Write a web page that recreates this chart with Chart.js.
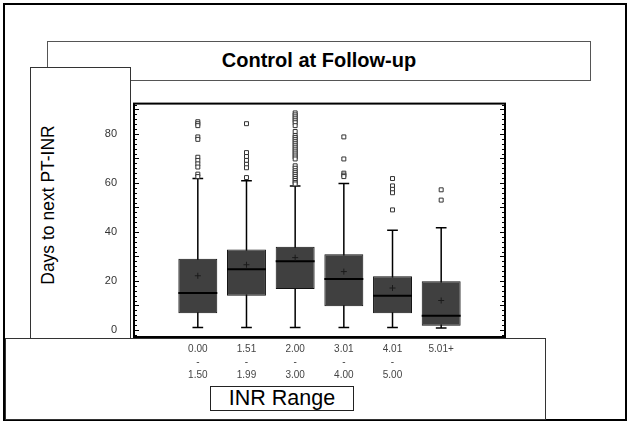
<!DOCTYPE html>
<html>
<head>
<meta charset="utf-8">
<script src="https://cdn.jsdelivr.net/npm/chart.js@4.4.1/dist/chart.umd.min.js"></script>
<style>
  html, body { margin: 0; padding: 0; background: #fff; }
  body { width: 629px; height: 423px; position: relative; overflow: hidden; font-family: Arial, "Liberation Sans", sans-serif; }
  .box { position: absolute; box-sizing: border-box; background: #fff; }
  #outer { left: 3px; top: 3px; width: 624px; height: 418px; border: 2px solid #000; background: transparent; }
  #titleBox { left: 47px; top: 41px; width: 544px; height: 40px; border: 1px solid #555; text-align: center; font-weight: bold; font-size: 20px; line-height: 37px; color: #000; }
  #yBox { left: 30px; top: 67px; width: 101px; height: 272px; border: 1px solid #333; }
  #yLabel { position: absolute; left: 48px; top: 205px; transform: translate(-50%, -50%) rotate(-90deg); white-space: nowrap; font-size: 17.5px; color: #000; }
  #xBox { left: 5px; top: 338px; width: 541px; height: 82px; border: 1px solid #333; }
  #inrBox { left: 210px; top: 386px; width: 144px; height: 25px; border: 1px solid #222; text-align: center; font-size: 21.5px; line-height: 23px; color: #000; }
  #wrap { position: absolute; left: 100px; top: 80px; width: 420px; height: 305px; }
</style>
</head>
<body>
<div class="box" id="outer"></div>
<div class="box" id="titleBox">Control at Follow-up</div>
<div class="box" id="yBox"></div>
<div id="yLabel">Days to next PT-INR</div>
<div class="box" id="xBox"></div>
<div class="box" id="inrBox">INR Range</div>
<div id="wrap"><canvas id="boxChart" width="420" height="305"></canvas></div>

<script>
/* INR range categories (tick label lines) */
const categories = [
  ['0.00', '-', '1.50'],
  ['1.51', '-', '1.99'],
  ['2.00', '-', '3.00'],
  ['3.01', '-', '4.00'],
  ['4.01', '-', '5.00'],
  ['5.01+']
];

/* box plot statistics, days to next PT-INR */
const whiskerLow  = [1.0, 1.0, 1.0, 1.0, 1.0, 0.8];
const q1          = [6.8, 13.9, 16.7, 9.7, 6.8, 1.7];
const medians     = [15.1, 24.8, 28.0, 20.8, 13.9, 5.8];
const q3          = [29.0, 32.8, 34.0, 30.9, 21.9, 19.9];
const whiskerHigh = [61.8, 60.9, 58.8, 59.8, 40.7, 41.7];
const means       = [22.1, 26.6, 29.5, 23.8, 17.1, 12.0];

const outliers = [
  [85.0, 84.2, 83.4, 78.8, 77.8, 70.5, 69.2, 67.8, 66.5, 63.6, 62.6],
  [84.2, 72.4, 70.8, 69.2, 67.6, 66.2, 62.2],
  [88.6, 87.8, 87.0, 86.2, 85.4, 84.6, 83.4, 81.0, 79.4, 78.6, 77.8, 77.0, 76.2, 75.4, 74.6,
   73.8, 73.0, 72.2, 71.4, 70.6, 69.8, 67.0, 66.0, 65.0, 64.2, 63.4, 62.6, 61.8, 61.0, 60.2, 59.6],
  [78.8, 69.8, 64.0, 63.2, 62.6],
  [61.8, 58.8, 57.4, 56.0, 49.0],
  [57.2, 53.0]
];

const yLabelTicks = [0, 20, 40, 60, 80];

const tickFont = "'Liberation Sans Narrow', 'Arial Narrow', Arial, sans-serif";

/* whiskers, caps, medians, frame and inward tick marks */
const boxParts = {
  id: 'boxParts',
  beforeDatasetsDraw(chart) {
    const { ctx, scales: { x, y } } = chart;
    ctx.save();
    ctx.strokeStyle = '#000';
    ctx.lineWidth = 1.5;
    categories.forEach((c, i) => {
      const px = x.getPixelForValue(i);
      const cap = x.getPixelForValue(i + 0.11) - px;
      const lo = y.getPixelForValue(whiskerLow[i]);
      const hi = y.getPixelForValue(whiskerHigh[i]);
      ctx.beginPath();
      ctx.moveTo(px, lo); ctx.lineTo(px, hi);
      ctx.moveTo(px - cap, lo); ctx.lineTo(px + cap, lo);
      ctx.moveTo(px - cap, hi); ctx.lineTo(px + cap, hi);
      ctx.stroke();
    });
    ctx.restore();
  },
  afterDatasetDraw(chart, args) {
    if (args.meta.type !== 'bar') return;
    const { ctx, scales: { x, y } } = chart;
    ctx.save();
    ctx.strokeStyle = '#000';
    ctx.lineWidth = 2;
    categories.forEach((c, i) => {
      const l = x.getPixelForValue(i - 0.4);
      const r = x.getPixelForValue(i + 0.4);
      const m = y.getPixelForValue(medians[i]);
      ctx.beginPath();
      ctx.moveTo(l, m); ctx.lineTo(r, m);
      ctx.stroke();
    });
    ctx.restore();
  },
  afterDraw(chart) {
    const { ctx, chartArea: a, scales: { y } } = chart;
    ctx.save();
    ctx.strokeStyle = '#000';
    ctx.lineWidth = 1;
    ctx.beginPath();
    for (let v = -2; v <= 92; v += 2) {
      const py = Math.round(y.getPixelForValue(v)) + 0.5;
      const len = v % 10 === 0 ? 5 : 3;
      ctx.moveTo(a.left, py); ctx.lineTo(a.left + len, py);
      ctx.moveTo(a.right, py); ctx.lineTo(a.right - len, py);
    }
    ctx.stroke();
    ctx.lineWidth = 2;
    ctx.strokeRect(a.left, a.top, a.right - a.left, a.bottom - a.top);
    ctx.restore();
  }
};

new Chart(document.getElementById('boxChart'), {
  type: 'bar',
  data: {
    datasets: [
      {
        type: 'bar',
        label: 'IQR',
        data: categories.map((c, i) => ({ x: i, y: [q1[i], q3[i]] })),
        backgroundColor: '#404040',
        borderColor: '#111',
        borderWidth: 1,
        borderSkipped: false,
        barPercentage: 0.8,
        categoryPercentage: 1.0,
        order: 3
      },
      {
        type: 'scatter',
        label: 'Mean',
        data: means.map((m, i) => ({ x: i, y: m })),
        pointStyle: 'cross',
        radius: 3,
        borderColor: '#1a1a1a',
        borderWidth: 1,
        order: 1
      },
      {
        type: 'scatter',
        label: 'Outliers',
        data: outliers.flatMap((arr, i) => arr.map(v => ({ x: i, y: v }))),
        pointStyle: 'rect',
        radius: 2.8,
        borderColor: '#333',
        backgroundColor: '#fff',
        borderWidth: 1,
        order: 2
      }
    ]
  },
  options: {
    responsive: false,
    animation: false,
    events: [],
    layout: { padding: { top: 8, right: 15, left: 0, bottom: 0 } },
    plugins: { legend: { display: false }, tooltip: { enabled: false }, title: { display: false } },
    scales: {
      x: {
        type: 'linear',
        min: -0.676,
        max: 5.676,
        grid: { display: false, drawTicks: false },
        border: { display: false },
        afterBuildTicks: s => { s.ticks = categories.map((c, i) => ({ value: i })); },
        afterFit: s => { s.height = 48; },
        ticks: {
          autoSkip: false,
          maxRotation: 0,
          padding: 6,
          color: '#444',
          font: { family: tickFont, size: 10, lineHeight: 1.3 },
          callback: v => categories[Math.round(v)]
        }
      },
      y: {
        min: -2.9,
        max: 92.4,
        grid: { display: false, drawTicks: false },
        border: { display: false },
        afterBuildTicks: s => { s.ticks = yLabelTicks.map(v => ({ value: v })); },
        afterFit: s => { s.width = 34; },
        ticks: {
          padding: 17,
          color: '#333',
          font: { family: tickFont, size: 11 }
        }
      }
    }
  },
  plugins: [boxParts]
});
</script>
</body>
</html>
